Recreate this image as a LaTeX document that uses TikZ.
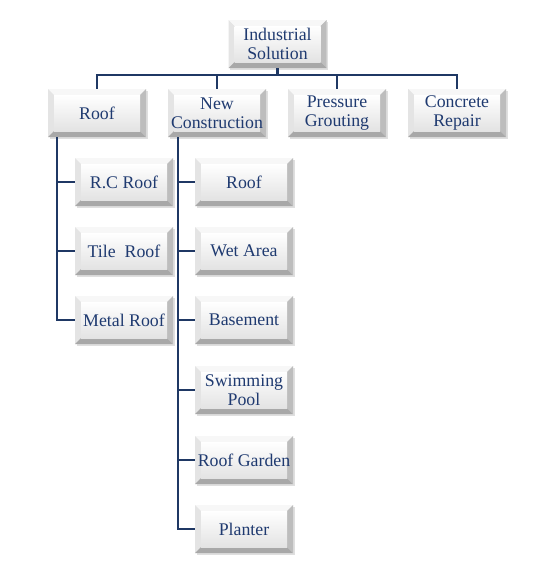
\documentclass[tikz,border=0pt]{standalone}
\usepackage{fontspec}
\setmainfont{Liberation Serif}
\usetikzlibrary{shadows}
\definecolor{txt}{HTML}{1F3A70}
\definecolor{ln}{HTML}{1F3864}
\definecolor{bTop}{HTML}{F7F7F7}
\definecolor{bLeft}{HTML}{E4E4E4}
\definecolor{bRight}{HTML}{BDBDBD}
\definecolor{bBot}{HTML}{A8A8A8}
\tikzset{
  bev/.style={minimum width=98pt, minimum height=48pt, inner sep=0pt, align=center,
    text=txt, font=\fontsize{17.8}{19}\selectfont, fill=gray!15,
    drop shadow={opacity=0.25, shadow xshift=1.5pt, shadow yshift=-1.5pt},
    path picture={
      \coordinate (nw) at (path picture bounding box.north west);
      \coordinate (ne) at (path picture bounding box.north east);
      \coordinate (sw) at (path picture bounding box.south west);
      \coordinate (se) at (path picture bounding box.south east);
      \coordinate (inw) at ([shift={(6pt,-6pt)}]nw);
      \coordinate (ine) at ([shift={(-6pt,-6pt)}]ne);
      \coordinate (isw) at ([shift={(6pt,6pt)}]sw);
      \coordinate (ise) at ([shift={(-6pt,6pt)}]se);
      \fill[bTop] (nw) -- (ne) -- (ine) -- (inw) -- cycle;
      \fill[bLeft] (nw) -- (inw) -- (isw) -- (sw) -- cycle;
      \fill[bRight] (ne) -- (se) -- (ise) -- (ine) -- cycle;
      \fill[bBot] (sw) -- (isw) -- (ise) -- (se) -- cycle;
      \shade[top color=white, bottom color=gray!22] (inw) rectangle (ise);
    }},
  conn/.style={draw=ln, line width=2.4pt}
}
\begin{document}
\begin{tikzpicture}[x=1pt,y=-1pt]
\useasboundingbox[fill=white] (0,0) rectangle (534,576);
\node[bev] (top) at (277.5,44) {Industrial\\Solution};
\node[bev] (roof) at (97,113) {Roof};
\node[bev] (nc) at (217,113) {New\\Construction};
\node[bev] (pg) at (337,113) {Pressure\\Grouting};
\node[bev] (cr) at (457,113) {Concrete\\Repair};
\node[bev] (rc) at (124,182) {R.C Roof};
\node[bev] (tile) at (124,251) {Tile\ \ Roof};
\node[bev] (metal) at (124,320) {Metal Roof};
\node[bev] (n1) at (244,182) {Roof};
\node[bev] (n2) at (244,251) {Wet Area};
\node[bev] (n3) at (244,320) {Basement};
\node[bev] (n4) at (244,390) {Swimming\\Pool};
\node[bev] (n5) at (244,460) {Roof Garden};
\node[bev] (n6) at (244,529) {Planter};
\coordinate (bus) at (0,75);
\draw[conn] (top.south) -- (top.south |- bus);
\draw[conn] ([xshift=-1.2pt]roof.north |- bus) -- ([xshift=1.2pt]cr.north |- bus);
\foreach \n in {roof,nc,pg,cr} \draw[conn] (\n.north |- bus) -- (\n.north);
\coordinate (rv) at ([xshift=9pt]roof.south west);
\draw[conn] (rv) |- (metal.west);
\foreach \n in {rc,tile} \draw[conn] (rv |- \n.west) -- (\n.west);
\coordinate (nv) at ([xshift=10pt]nc.south west);
\draw[conn] (nv) |- (n6.west);
\foreach \n in {n1,n2,n3,n4,n5} \draw[conn] (nv |- \n.west) -- (\n.west);
\end{tikzpicture}
\end{document}
